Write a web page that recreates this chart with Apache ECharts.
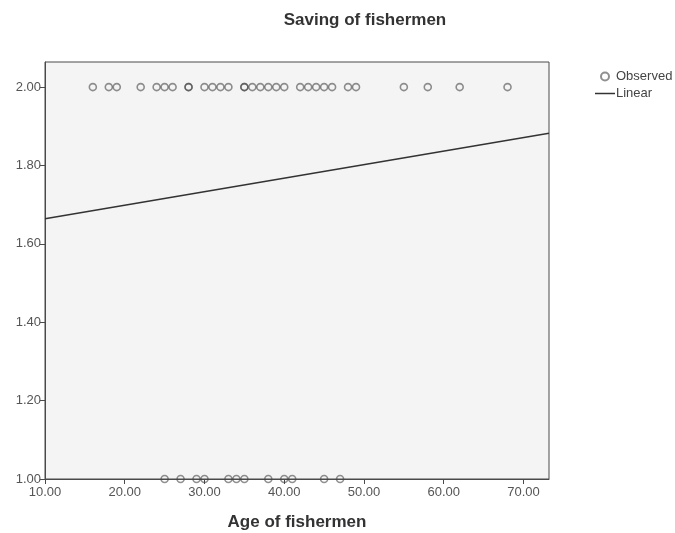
<!DOCTYPE html>
<html>
<head>
<meta charset="utf-8">
<script src="https://cdn.jsdelivr.net/npm/echarts@6/dist/echarts.min.js"></script>
<style>
  html, body { margin: 0; padding: 0; background: #fff; }
  #chart { width: 675px; height: 533px; }
</style>
</head>
<body>
<div id="chart"></div>
<script>
// ages of fishermen who save (2.00) and who don't (1.00)
var savingAges = [16, 18, 19, 22, 24, 25, 26, 28, 28, 30, 31, 32, 33, 35, 35, 36, 37, 38, 39, 40,
  42, 43, 44, 45, 46, 48, 49, 55, 58, 62, 68];
var noSavingAges = [25, 27, 29, 30, 33, 34, 35, 38, 40, 41, 45, 47];
// fitted linear line, read at the two edges of the plot
var linearX = [10, 73.2];
var linearY = [1.664, 1.882];
// tick values
var xTicks = [10, 20, 30, 40, 50, 60, 70];
var yTicks = [1, 1.2, 1.4, 1.6, 1.8, 2];

var observed = [];
savingAges.forEach(function (a) { observed.push([a, 2]); });
noSavingAges.forEach(function (a) { observed.push([a, 1]); });

var chart = echarts.init(document.getElementById('chart'));
var axisColor = '#4a4a4a';
var font = 'Arial, Liberation Sans, sans-serif';
var labelStyle = { color: '#555', fontSize: 13, fontFamily: font };

chart.setOption({
  animation: false,
  title: {
    text: 'Saving of fishermen',
    left: 360,
    textAlign: 'center',
    top: 7,
    textStyle: { color: '#333', fontSize: 17, fontWeight: 'bold', fontFamily: font }
  },
  legend: {
    orient: 'vertical',
    left: 590,
    top: 65,
    itemGap: 4,
    itemWidth: 20,
    itemHeight: 8,
    textStyle: { color: '#444', fontSize: 13, fontFamily: font, padding: [0, 0, 0, -4] },
    data: [
      { name: 'Observed' },
      { name: 'Linear', icon: 'path://M0,0L20,0L20,1.5L0,1.5Z' }
    ]
  },
  grid: {
    left: 45,
    right: 126,
    top: 62,
    bottom: 54,
    outerBoundsMode: 'none',
    containLabel: false,
    show: true,
    backgroundColor: '#f4f4f4',
    borderColor: axisColor,
    borderWidth: 1
  },
  xAxis: {
    type: 'value',
    min: 10,
    max: 73.2,
    interval: 10,
    name: 'Age of fishermen',
    nameLocation: 'middle',
    nameGap: 35,
    nameTextStyle: { color: '#333', fontSize: 17, fontWeight: 'bold', fontFamily: font },
    axisLine: { show: true, lineStyle: { color: axisColor } },
    axisTick: { show: true, length: 5, customValues: xTicks, lineStyle: { color: axisColor } },
    splitLine: { show: false },
    axisLabel: Object.assign({
      margin: 7,
      customValues: xTicks,
      formatter: function (v) { return v.toFixed(2); }
    }, labelStyle)
  },
  yAxis: {
    type: 'value',
    min: 1,
    max: 2.064,
    interval: 0.2,
    axisLine: { show: true, lineStyle: { color: axisColor } },
    axisTick: { show: true, length: 5, customValues: yTicks, lineStyle: { color: axisColor } },
    splitLine: { show: false },
    axisLabel: Object.assign({
      margin: 4,
      customValues: yTicks,
      formatter: function (v) { return v.toFixed(2); }
    }, labelStyle)
  },
  series: [
    {
      name: 'Observed',
      type: 'scatter',
      symbol: 'circle',
      symbolSize: 7,
      data: observed,
      itemStyle: { color: 'transparent', borderColor: 'rgba(70,70,70,0.75)', borderWidth: 1.6 }
    },
    {
      name: 'Linear',
      type: 'line',
      symbol: 'none',
      data: [[linearX[0], linearY[0]], [linearX[1], linearY[1]]],
      lineStyle: { color: '#333', width: 1.5 },
      itemStyle: { color: '#333' }
    }
  ]
});
</script>
</body>
</html>
